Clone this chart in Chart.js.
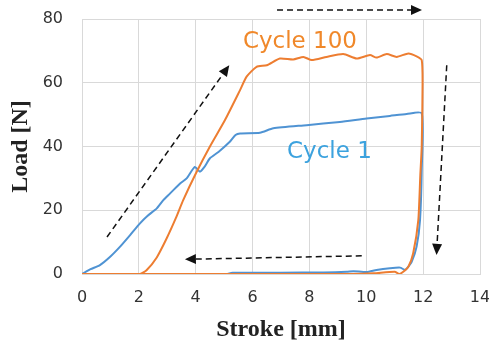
<!DOCTYPE html>
<html>
<head>
<meta charset="utf-8">
<script src="https://cdn.jsdelivr.net/npm/chart.js@4"></script>
<style>
    html, body { margin: 0; padding: 0; background: #fff; }
    #wrap { width: 489px; height: 347px; position: relative; }
</style>
</head>
<body>
<div id="wrap"><canvas id="load-chart"></canvas></div>
<script>
// Cycle 1 (ida e volta)
const cycle1Stroke = [0, 0.3, 0.63, 1.0, 1.34, 1.7, 2.04, 2.3, 2.63, 2.86, 3.1, 3.45, 3.68, 3.97, 4.15, 4.3, 4.5, 4.8, 5.2, 5.4, 5.56, 6.26, 6.73, 7.9, 9.07, 10.01, 10.83, 11.42, 11.95,
    11.95, 11.89, 11.77, 11.6, 11.45, 11.36, 11.19, 10.83, 10.36, 10.01, 9.55, 9.31, 8.5, 7, 6, 5.3, 5.1];
const cycle1Load = [0, 1.5, 2.8, 5.5, 8.6, 12.3, 15.9, 18.2, 20.6, 23.2, 25.3, 28.4, 30, 33.6, 32.1, 33.5, 36.3, 38.3, 41.5, 43.6, 44.1, 44.3, 45.7, 46.7, 47.7, 48.8, 49.6, 50.2, 50.4,
    32.6, 16.9, 8.6, 3.9, 2.0, 1.3, 2.0, 1.8, 1.25, 0.6, 0.9, 0.7, 0.5, 0.4, 0.4, 0.4, 0];

// Cycle 100
const cycle100Stroke = [0, 2.04, 2.27, 2.63, 2.98, 3.3, 3.56, 4.03, 4.5, 5.03, 5.56, 5.79, 6.14, 6.5, 6.96, 7.43, 7.79, 8.08, 8.6, 9.19, 9.66, 10.13, 10.36, 10.72, 11.07, 11.48, 11.77, 11.95,
    11.98, 11.95, 11.9, 11.83, 11.65, 11.48, 11.3, 11.16, 11.0, 10.25, 9.5, 5, 0];
const cycle100Load = [0, 0, 1.2, 5.2, 11.2, 17.5, 23.2, 32.0, 40.0, 48.3, 57.7, 61.9, 65.0, 65.5, 67.6, 67.3, 68.1, 67.1, 68.1, 69.0, 67.6, 68.7, 67.9, 69.0, 68.1, 69.2, 68.3, 67.1,
    59.8, 40, 31, 16.9, 6.5, 2.3, 0.7, 0, 0.7, 0.2, 0, 0, 0];

// Setas tracejadas [x0, y0, x1, y1] em unidades do gráfico
const arrows = [
    [0.88, 11.6, 5.18, 65.5],
    [6.86, 82.8, 11.96, 82.8],
    [12.83, 65.5, 12.47, 6.0],
    [9.84, 5.7, 3.62, 4.6]
];

// Rótulos das curvas
const labelTexts = ['Cycle 100', 'Cycle 1'];
const labelPos = [[5.66, 70.8], [7.21, 36.4]];
const labelColors = ['#f0882a', '#3ca2de'];

const xTicks = [0, 2, 4, 6, 8, 10, 12, 14];
const yTicks = [0, 20, 40, 60, 80];

function toPoints(xs, ys) {
    return xs.map((x, i) => ({ x: x, y: ys[i] }));
}

const annotations = {
    id: 'annotations',
    afterDraw(chart) {
        const ctx = chart.ctx;
        const xs = chart.scales.x;
        const ys = chart.scales.y;
        ctx.save();
        ctx.strokeStyle = '#111';
        ctx.fillStyle = '#111';
        ctx.lineWidth = 1.5;
        arrows.forEach(a => {
            const x0 = xs.getPixelForValue(a[0]);
            const y0 = ys.getPixelForValue(a[1]);
            const x1 = xs.getPixelForValue(a[2]);
            const y1 = ys.getPixelForValue(a[3]);
            const ang = Math.atan2(y1 - y0, x1 - x0);
            const head = 11;
            ctx.setLineDash([6, 4]);
            ctx.beginPath();
            ctx.moveTo(x0, y0);
            ctx.lineTo(x1 - head * Math.cos(ang), y1 - head * Math.sin(ang));
            ctx.stroke();
            ctx.setLineDash([]);
            ctx.beginPath();
            ctx.moveTo(x1, y1);
            ctx.lineTo(x1 - head * Math.cos(ang) + 5 * Math.sin(ang), y1 - head * Math.sin(ang) - 5 * Math.cos(ang));
            ctx.lineTo(x1 - head * Math.cos(ang) - 5 * Math.sin(ang), y1 - head * Math.sin(ang) + 5 * Math.cos(ang));
            ctx.closePath();
            ctx.fill();
        });
        ctx.font = '23px "DejaVu Sans"';
        ctx.textBaseline = 'alphabetic';
        ctx.textAlign = 'left';
        labelTexts.forEach((t, i) => {
            ctx.fillStyle = labelColors[i];
            ctx.fillText(t, xs.getPixelForValue(labelPos[i][0]), ys.getPixelForValue(labelPos[i][1]));
        });
        ctx.restore();
    }
};

const ctx = document.getElementById('load-chart').getContext('2d');
const loadChart = new Chart(ctx, {
    type: 'line',
    data: {
        datasets: [{
            label: 'Cycle 100',
            data: toPoints(cycle100Stroke, cycle100Load),
            borderColor: '#ed7d31',
            borderWidth: 2,
            pointRadius: 0,
            tension: 0.2
        }, {
            label: 'Cycle 1',
            data: toPoints(cycle1Stroke, cycle1Load),
            borderColor: '#4f93d3',
            borderWidth: 2,
            pointRadius: 0,
            tension: 0.2
        }]
    },
    options: {
        responsive: true,
        maintainAspectRatio: false,
        animation: false,
        layout: { padding: { top: 19, right: 9, left: 0, bottom: 0 } },
        plugins: {
            legend: { display: false },
            tooltip: { enabled: false }
        },
        scales: {
            x: {
                type: 'linear',
                min: 0,
                max: 14,
                afterBuildTicks: s => { s.ticks = xTicks.map(v => ({ value: v })); },
                afterFit: s => { s.height = 73; s.paddingLeft = 0; s.paddingRight = 0; },
                grid: { color: '#d9d9d9', drawTicks: false },
                border: { color: '#d9d9d9' },
                ticks: { color: '#333', padding: 14, font: { family: 'DejaVu Sans', size: 16 } },
                title: {
                    display: true,
                    text: 'Stroke [mm]',
                    color: '#222',
                    padding: { top: 0, bottom: 3 },
                    font: { family: 'Liberation Serif', size: 24, weight: 'bold' }
                }
            },
            y: {
                min: 0,
                max: 80,
                afterBuildTicks: s => { s.ticks = yTicks.map(v => ({ value: v })); },
                afterFit: s => { s.width = 82; s.paddingTop = 0; s.paddingBottom = 0; },
                grid: { color: '#d9d9d9', drawTicks: false },
                border: { color: '#d9d9d9' },
                ticks: { color: '#333', padding: 19, font: { family: 'DejaVu Sans', size: 16 } },
                title: {
                    display: true,
                    text: 'Load [N]',
                    color: '#222',
                    padding: { top: 6, bottom: 0 },
                    font: { family: 'Liberation Serif', size: 24, weight: 'bold' }
                }
            }
        }
    },
    plugins: [annotations]
});
</script>
</body>
</html>
